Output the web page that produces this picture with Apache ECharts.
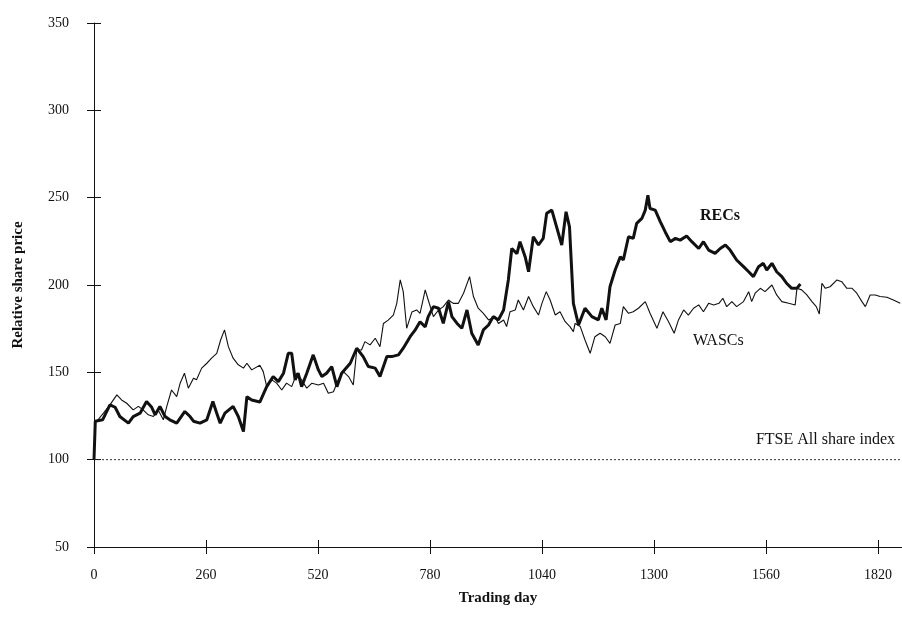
<!DOCTYPE html>
<html>
<head>
<meta charset="utf-8">
<script type="text/javascript" src="https://cdn.jsdelivr.net/npm/echarts@6/dist/echarts.min.js"></script>
</head>
<body style="margin:0;background:#fff;">
<div id="main" style="width:902px;height:629px;"></div>
<script type="text/javascript">
// trading day / relative share price
var recDays = [0, 3, 20, 37, 49, 60, 80, 91, 107, 122, 134, 142, 153, 165, 176, 192, 211, 223, 231, 246,
    262, 276, 285, 293, 304, 323, 335, 347, 355, 366, 385, 401, 416, 428, 440, 451, 459, 467, 474, 482,
    494, 509, 521, 529, 540, 552, 564, 575, 595, 610, 625, 637, 653, 664, 680, 691, 707, 718, 734, 745,
    757, 769, 776, 788, 800, 811, 823, 831, 843, 854, 866, 877, 892, 904, 916, 927, 939, 951, 962, 970,
    982, 989, 1001, 1009, 1020, 1032, 1043, 1051, 1063, 1074, 1086, 1096, 1104, 1113, 1125, 1140, 1156, 1171, 1179, 1189,
    1198, 1210, 1222, 1229, 1241, 1252, 1260, 1272, 1280, 1286, 1291, 1303, 1315, 1326, 1338, 1350, 1361, 1376, 1388, 1404,
    1415, 1427, 1442, 1454, 1466, 1477, 1492, 1508, 1520, 1531, 1543, 1554, 1562, 1574, 1585, 1597, 1608, 1620, 1632, 1640];
var recVals = [100, 122, 122.8, 131.4, 130, 124.7, 120.9, 124.7, 126.6, 133.3, 130, 125.7, 130.5, 124.7, 122.8, 120.9, 127.6, 124.7, 122, 120.9,
    122.8, 133.3, 126.6, 120.9, 126.6, 130.5, 124.7, 116.1, 136.1, 134.2, 133, 141.8, 147.6, 144.7, 149.5, 160.9, 160.9, 145.7, 149.5, 141.8,
    149.5, 160, 151.4, 147.6, 149.5, 153.3, 141.8, 149.5, 155.2, 163.8, 159, 153.3, 152.4, 147.6, 159, 159, 160, 163.8, 170.4, 174,
    179, 176, 181.9, 187.6, 186.7, 178, 190.5, 181.9, 178, 175.2, 185.7, 172.4, 165.7, 174.3, 177.1, 181.9, 180, 185.7, 202.9, 220.9,
    218, 224.8, 216.2, 207.6, 227.6, 222.9, 226.7, 241, 242.9, 233.3, 222.9, 241.9, 233.3, 189.5, 177.1, 186.7, 181.9, 180, 186.7, 180,
    199, 208.6, 216.2, 214.3, 227.6, 226.7, 235.3, 238.1, 242.9, 251.4, 243.8, 242.9, 236.2, 230.5, 224.8, 226.7, 225.7, 228, 224.8, 220.9,
    224.8, 220, 218.1, 220.9, 222.9, 220, 214.3, 210.5, 207.6, 204.8, 210.5, 212.4, 208.6, 212.4, 207.6, 204.8, 201, 198.1, 198.1, 200.6];

var wascDays = [0, 3, 22, 37, 53, 64, 76, 91, 103, 114, 126, 138, 149, 161, 169, 180, 192, 200, 210, 219,
    231, 238, 250, 262, 273, 285, 294, 303, 312, 323, 335, 347, 355, 366, 385, 393, 401, 413, 424, 436,
    447, 459, 471, 482, 494, 506, 521, 533, 544, 556, 567, 579, 591, 602, 610, 621, 629, 641, 653, 664,
    672, 683, 695, 703, 711, 718, 726, 738, 749, 757, 769, 776, 788, 800, 811, 823, 834, 846, 858, 872,
    881, 892, 904, 916, 931, 939, 951, 958, 966, 978, 985, 997, 1009, 1020, 1032, 1040, 1050, 1059, 1071, 1082,
    1094, 1105, 1113, 1117, 1129, 1140, 1152, 1163, 1175, 1187, 1198, 1210, 1222, 1229, 1241, 1252, 1264, 1280, 1291, 1307,
    1321, 1334, 1347, 1357, 1369, 1380, 1392, 1404, 1415, 1427, 1439, 1451, 1460, 1469, 1481, 1492, 1508, 1520, 1527, 1535,
    1547, 1558, 1574, 1585, 1597, 1613, 1628, 1632, 1643, 1655, 1667, 1677, 1684, 1690, 1698, 1709, 1725, 1736, 1748, 1760,
    1771, 1783, 1791, 1802, 1814, 1825, 1841, 1856, 1872];
var wascVals = [100, 121, 126.6, 131.4, 137.1, 134.2, 132.3, 128.5, 130.5, 128.5, 125.7, 124.7, 128.5, 122.8, 130.5, 139.9, 136.1, 143.8, 149.5, 140.9,
    146.6, 145.7, 152.4, 155.2, 158.1, 160.9, 168.5, 174.3, 164.7, 158.1, 154.3, 152.4, 155.2, 151.4, 154, 150.4, 141.8, 145.7, 143.8, 139.9,
    143.8, 141.8, 149.5, 145.7, 140.9, 143.8, 142.8, 143.8, 138, 138.9, 145.7, 150.4, 147.6, 142.8, 162.8, 162.8, 167.6, 165.7, 169.5, 164.7,
    178, 179.9, 182.8, 189.5, 202.9, 196.2, 175.2, 184.5, 185.7, 183.8, 197.2, 191.4, 181.9, 185.7, 187.6, 191.4, 189.5, 189.5, 195.3, 204.8,
    193.4, 186.7, 183.8, 180, 181.9, 178, 180, 176.2, 184.7, 185.7, 191.4, 185.7, 193.4, 187.6, 182.8, 189.5, 196.2, 191.4, 182.8, 184.7,
    179, 176.2, 173.3, 178, 176.2, 168.5, 160.9, 170.4, 172.4, 170.4, 166.6, 177.1, 178, 187.6, 183.8, 184.7, 186.7, 190.5, 183.8, 175.2,
    184.7, 179, 172.4, 180, 185.7, 182.8, 186.7, 188.6, 184.7, 189.5, 188.6, 189.5, 192.4, 187.6, 190.5, 187.6, 190.5, 196.2, 190.5, 195.3,
    198.1, 196.2, 200, 194.3, 190.5, 189.5, 188.6, 198.1, 197.2, 194.3, 190.5, 187.6, 183.4, 201, 198.1, 199, 202.9, 201.9, 198.1, 198.1,
    195.3, 190.5, 187.6, 194.3, 194.3, 193.4, 193, 191.4, 189.5];

var ftseDays = [0, 1876];
var ftseVals = [100, 100];

var seriesNames = ['RECs', 'WASCs', 'FTSE All share index'];

function pairs(xs, ys) {
    var out = [];
    for (var i = 0; i < xs.length; i++) out.push([xs[i], ys[i]]);
    return out;
}

var myChart = echarts.init(document.getElementById('main'));
var serif = 'Liberation Serif';
var ink = '#111';

var option = {
    backgroundColor: '#fff',
    animation: false,
    textStyle: {fontFamily: serif},
    grid: {left: 94, right: 0, top: 23, bottom: 82},
    xAxis: [{
        type: 'value',
        min: 0, max: 1876, interval: 260,
        name: 'Trading day',
        nameLocation: 'middle',
        nameGap: 44,
        nameTextStyle: {fontFamily: serif, fontWeight: 'bold', fontSize: 15, color: ink},
        axisLine: {lineStyle: {color: ink, width: 1}},
        axisTick: {length: 7, lineStyle: {color: ink}},
        axisLabel: {
            fontFamily: serif, fontSize: 14, color: ink, margin: 21, showMaxLabel: false,
            formatter: function (v) { return String(v); }
        },
        splitLine: {show: false}
    }, {
        // inner half of the crossing ticks
        type: 'value',
        min: 0, max: 1876, interval: 260,
        position: 'bottom',
        axisLine: {show: false},
        axisTick: {inside: true, length: 7, lineStyle: {color: ink}},
        axisLabel: {show: false},
        splitLine: {show: false}
    }],
    yAxis: [{
        type: 'value',
        min: 50, max: 350, interval: 50,
        name: 'Relative share price',
        nameLocation: 'middle',
        nameGap: 68,
        nameTextStyle: {fontFamily: serif, fontWeight: 'bold', fontSize: 15, color: ink},
        axisLine: {show: true, lineStyle: {color: ink, width: 1}},
        axisTick: {show: true, length: 7, lineStyle: {color: ink}},
        axisLabel: {fontFamily: serif, fontSize: 14, color: ink, margin: 25},
        splitLine: {show: false}
    }, {
        type: 'value',
        min: 50, max: 350, interval: 50,
        position: 'left',
        axisLine: {show: false},
        axisTick: {show: true, inside: true, length: 7, lineStyle: {color: ink}},
        axisLabel: {show: false},
        splitLine: {show: false}
    }],
    series: [{
        name: seriesNames[0],
        type: 'line',
        data: pairs(recDays, recVals),
        showSymbol: false,
        lineStyle: {color: ink, width: 3},
        z: 3
    }, {
        name: seriesNames[1],
        type: 'line',
        data: pairs(wascDays, wascVals),
        showSymbol: false,
        lineStyle: {color: ink, width: 1.1},
        z: 2
    }, {
        name: seriesNames[2],
        type: 'line',
        data: pairs(ftseDays, ftseVals),
        showSymbol: false,
        lineStyle: {color: '#333', width: 1, type: [2, 2]},
        z: 1
    }],
    graphic: [
        {type: 'text', left: 700, top: 208, style: {text: seriesNames[0], font: 'bold 16px "Liberation Serif"', fill: ink}},
        {type: 'text', left: 693, top: 333, style: {text: seriesNames[1], font: '16px "Liberation Serif"', fill: ink}},
        {type: 'text', right: 7, top: 432, style: {text: seriesNames[2], font: '16px "Liberation Serif"', fill: ink}}
    ]
};
myChart.setOption(option);
</script>
</body>
</html>
